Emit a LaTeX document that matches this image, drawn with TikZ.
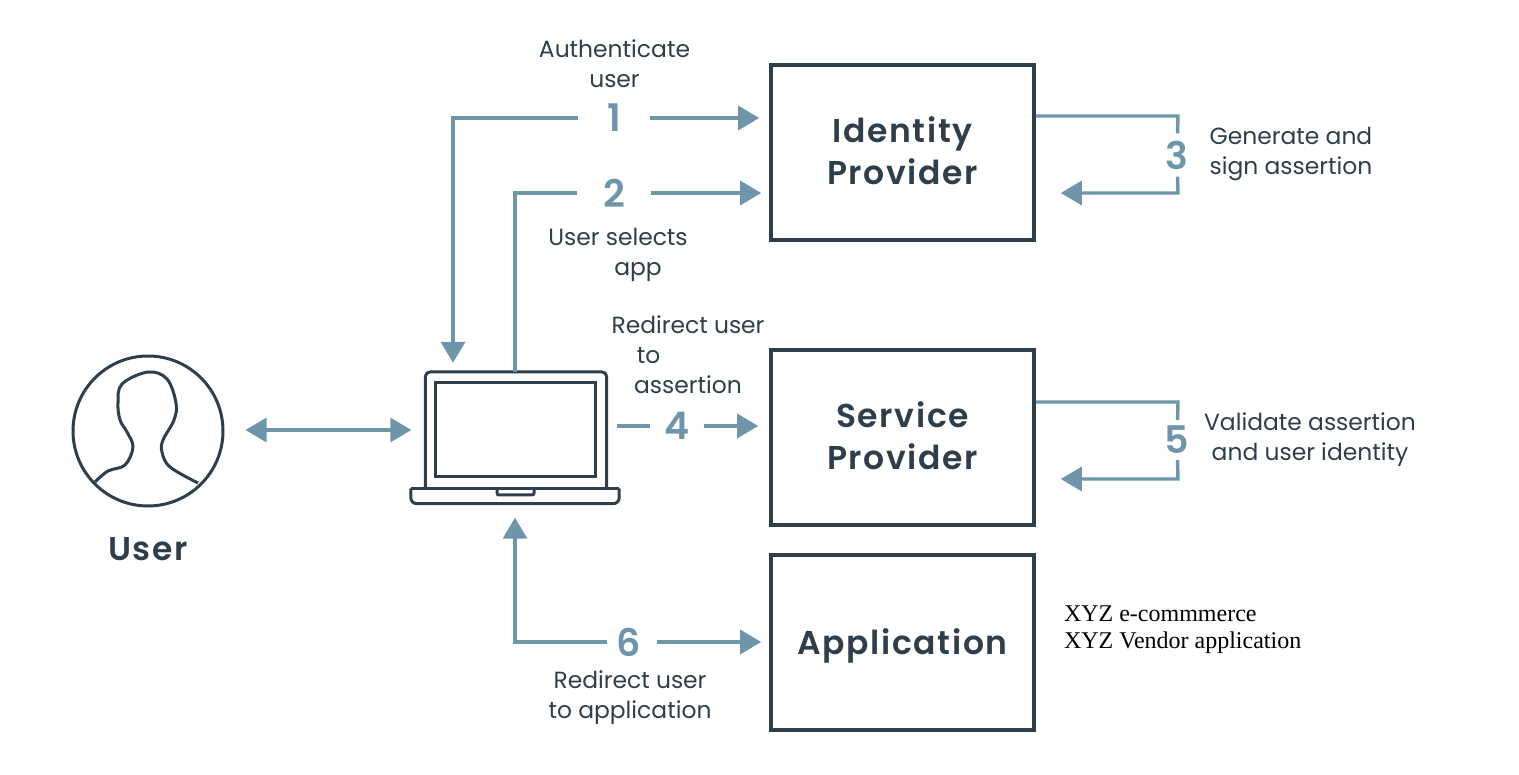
\documentclass[tikz,border=0pt]{standalone}
\usepackage{fontspec}
\setmainfont{Poppins}
\newfontfamily\titlefont[UprightFont=*-SemiBold,LetterSpace=5]{Poppins}
\newfontfamily\numfont[UprightFont=*-SemiBold]{Poppins}
\newfontfamily\xyzfont{Liberation Serif}
\usetikzlibrary{positioning,arrows.meta}
\definecolor{boxdark}{HTML}{2F3E4B}
\definecolor{flowblue}{HTML}{6F95AB}
\tikzset{
    provider/.style={draw=boxdark, line width=3.6pt, minimum width=263pt, minimum height=175pt, inner sep=0pt, text=boxdark, align=center, font=\titlefont\fontsize{33}{41.5}\selectfont},
    lbl/.style={text=boxdark, align=center, inner sep=0pt, font=\fontsize{23.4}{30}\selectfont},
    num/.style={text=flowblue, inner sep=0pt, font=\numfont\fontsize{38}{38}\selectfont},
    flow/.style={draw=flowblue, line width=3.4pt},
    flowto/.style={flow, -{Triangle[length=21pt,width=24pt]}},
    device/.style={draw=boxdark, line width=3pt}
}
\begin{document}
\begin{tikzpicture}[x=1pt, y=1pt]
\useasboundingbox (0,0) rectangle (1519,-775);

% Boxes
\node[provider, text depth=4pt] (idp) at (902.5,-152.5) {Identity\\Provider};
\node[provider, text depth=4pt, below=106.4pt of idp] (spr) {Service\\Provider};
\node[provider, text depth=1pt, below=26.4pt of spr] (app) {Application};

% User
\node[draw=boxdark, line width=3pt, circle, minimum size=150pt, inner sep=0pt] (user) at (148,-431) {};
\node[text=boxdark, inner sep=0pt, font=\titlefont\fontsize{33}{33}\selectfont] (userlbl) at (148,-549) {User};
\draw[device, line join=round] plot[smooth, tension=0.6] coordinates {(95,-482) (108,-471) (125,-465) (133,-447) (127,-432) (120,-420) (118,-403) (122,-384) (148,-372) (167,-379) (176,-403) (174,-420) (163,-440) (162,-452) (170,-467) (198,-483)};

% Laptop
\node[minimum width=181pt, minimum height=116pt, inner sep=0pt] (lid) at (516,-430) {};
\node[draw=boxdark, line width=3pt, minimum width=160pt, minimum height=94pt, inner sep=0pt] (screen) at (515,-430) {};
\node[minimum width=208pt, minimum height=15pt, inner sep=0pt] (base) at (515,-496) {};
\draw[device, rounded corners=5pt] (lid.south west) -- (lid.north west) -- (lid.north east) -- (lid.south east);
\draw[device, rounded corners=6pt] (base.north west) -- (base.south west) -- (base.south east) -- (base.north east);
\draw[device, sharp corners] (base.north west) -- (base.north east);
\draw[device, rounded corners=2pt] (497,-488) -- (497,-495) -- (534,-495) -- (534,-488);

% Step numbers
\node[num, minimum width=72pt] (num1) at (614,-118) {1};
\node[num, minimum width=73pt] (num2) at (614,-193) {\raisebox{-3pt}{2}};
\node[num, minimum height=43pt] (num3) at (1177,-155) {3};
\node[num, minimum width=53pt] (num4) at (677,-426) {\raisebox{-2pt}{4}};
\node[num, minimum height=40pt] (num5) at (1177,-440) {5};
\node[num, minimum width=49pt] (num6) at (632,-642) {\raisebox{-3pt}{6}\hspace{6pt}\mbox{}};

% Labels
\node[lbl] (authlbl) at (614.5,-64) {Authenticate\\user};
\node[lbl] (selectlbl) at (618,-255) {User selects\\\hspace{40pt}app};
\node[lbl] (signlbl) at (1291,-154.5) {Generate and\\sign assertion};
\node[lbl] (redirlbl) at (688,-355) {Redirect user\\to\hspace{79pt}\mbox{}\\assertion};
\node[lbl] (validlbl) at (1310,-440) {Validate assertion\\and user identity};
\node[lbl] (applbl) at (630,-698) {Redirect user\\to application};
\node[align=left, inner sep=0pt, font=\xyzfont\fontsize{24}{27}\selectfont, right=28pt of app.east, yshift=13pt] (xyzlbl) {XYZ e-commmerce\\XYZ Vendor application};

% Corners
\coordinate (c1) at (453,-118);
\coordinate (c2) at (515,-193);
\coordinate (c3a) at (1178,-116);
\coordinate (c3b) at (1178,-193);
\coordinate (c5a) at (1178,-402);
\coordinate (c5b) at (1178,-479);
\coordinate (c6) at (515,-642);

% Connections
\draw[flowto, {Triangle[length=21pt,width=24pt]}-{Triangle[length=21pt,width=24pt]}, shorten <=21pt, shorten >=14pt] (user.east |- lid.west) -- (lid.west);
\draw[flowto, shorten >=9pt] (num1) -- (c1) -- (c1 |- lid.north);
\draw[flowto, shorten >=10pt] (num1) -- (num1 -| idp.west);
\draw[flow] (lid.north -| c2) -- (c2) -- (num2);
\draw[flowto, shorten >=8pt] (num2) -- (num2 -| idp.west);
\draw[flow] (c3a -| idp.east) -- (c3a) -- (num3);
\draw[flowto, shorten >=25pt] (num3) -- (c3b) -- (c3b -| idp.east);
\draw[flow, shorten <=10pt] (num4 -| lid.east) -- (num4);
\draw[flowto, shorten >=11pt] (num4) -- (num4 -| spr.west);
\draw[flow] (c5a -| spr.east) -- (c5a) -- (num5);
\draw[flowto, shorten >=25pt] (num5) -- (c5b) -- (c5b -| spr.east);
\draw[flowto, shorten >=14pt] (num6) -- (c6) -- (c6 |- base.south);
\draw[flowto, shorten >=8pt] (num6) -- (num6 -| app.west);
\end{tikzpicture}
\end{document}
